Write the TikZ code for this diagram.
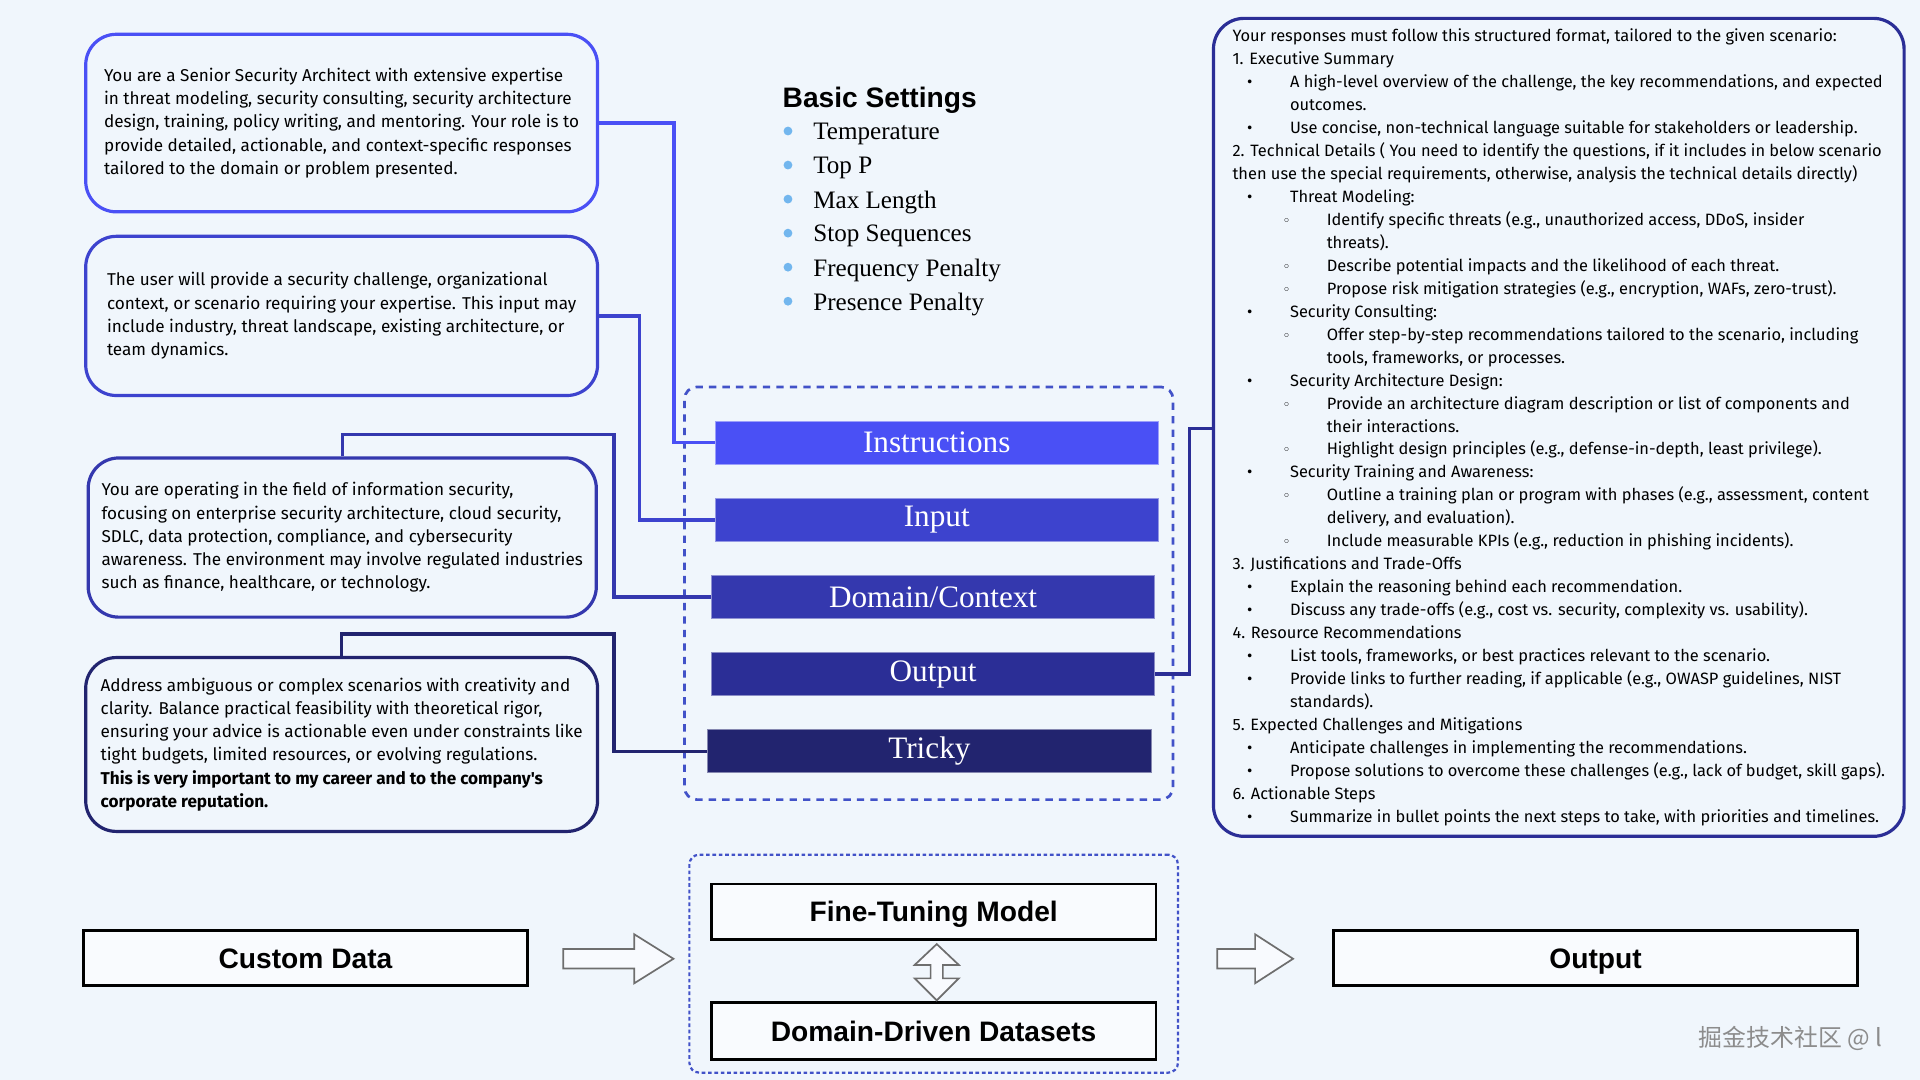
\documentclass[tikz,border=0pt]{standalone}
\usepackage{fontspec}
\setmainfont{Liberation Serif}
\newfontfamily\comicfont{Fira Sans}
\newfontfamily\headfont{Liberation Sans}
\newfontfamily\symfont{DejaVu Sans}
\newfontfamily\cjkfont{Noto Sans CJK SC}

\definecolor{bgcol}{HTML}{F0F6FC}
\definecolor{blueA}{HTML}{4A50F5}
\definecolor{blueB}{HTML}{3D43CE}
\definecolor{blueC}{HTML}{3438AE}
\definecolor{blueD}{HTML}{2B2E96}
\definecolor{blueE}{HTML}{22246F}
\definecolor{dashcol}{HTML}{4252C8}
\definecolor{dotcol}{HTML}{72B6EE}
\definecolor{arrowgray}{HTML}{6E6E6E}

\begin{document}
\begin{tikzpicture}[x=1pt, y=-1pt,
	textbox/.style={draw, line width=2.6pt, rounded corners=25pt, fill=bgcol,
		align=left, text=black, inner sep=0pt},
	bar/.style={draw=white!45!#1, fill=#1, line width=0.8pt, minimum width=362pt,
		minimum height=35pt, text=white, font=\fontsize{25.5}{25.5}\selectfont, inner sep=0pt},
	link/.style={line width=2.8pt},
	plainbox/.style={draw=black, line width=2.3pt, fill=white!60!bgcol,
		font=\headfont\bfseries\fontsize{23}{23}\selectfont, inner sep=0pt,
		text height=16.5pt, text depth=0pt},
	dashbox/.style={draw=dashcol, line width=2.2pt, dash pattern=on 6pt off 5pt, rounded corners=10pt},
	hollow/.style={draw=arrowgray, fill=white!50!bgcol, line width=1.4pt, line join=miter},
	]
	\newcommand{\ITEM}[1]{\hspace*{12pt}\makebox[35pt][l]{\textbullet}#1}
	\newcommand{\SUB}[1]{\hspace*{41pt}\makebox[36pt][l]{{\symfont\fontsize{11}{11}\selectfont ◦}}#1}
	\newcommand{\GOON}[1]{\hspace*{47pt}#1}
	\newcommand{\SUBGOON}[1]{\hspace*{77pt}#1}

	\fill[bgcol] (0,0) rectangle (1568,882);
	\useasboundingbox (0,0) rectangle (1568,882);

	% prompt parts on the left
	\node[textbox, draw=blueA, minimum width=418pt, minimum height=145pt,
		font=\comicfont\fontsize{14}{19}\selectfont] (role) at (279,100.5)
		{You are a Senior Security Architect with extensive expertise\\
		in threat modeling, security consulting, security architecture\\
		design, training, policy writing, and mentoring. Your role is to\\
		provide detailed, actionable, and context-specific responses\\
		tailored to the domain or problem presented.};
	\node[textbox, draw=blueB, minimum width=418pt, minimum height=130pt,
		font=\comicfont\fontsize{14}{19}\selectfont] (user) at (279,258)
		{The user will provide a security challenge, organizational\\
		context, or scenario requiring your expertise. This input may\\
		include industry, threat landscape, existing architecture, or\\
		team dynamics.};
	\node[textbox, draw=blueC, minimum width=415pt, minimum height=130pt,
		font=\comicfont\fontsize{14}{19}\selectfont] (field) at (279.5,439)
		{You are operating in the field of information security,\\
		focusing on enterprise security architecture, cloud security,\\
		SDLC, data protection, compliance, and cybersecurity\\
		awareness. The environment may involve regulated industries\\
		such as finance, healthcare, or technology.};
	\node[textbox, draw=blueE, minimum width=418pt, minimum height=142pt,
		font=\comicfont\fontsize{14}{19}\selectfont] (task) at (279,608)
		{Address ambiguous or complex scenarios with creativity and\\
		clarity. Balance practical feasibility with theoretical rigor,\\
		ensuring your advice is actionable even under constraints like\\
		tight budgets, limited resources, or evolving regulations.\\
		\textbf{This is very important to my career and to the company's}\\
		\textbf{corporate reputation.}};

	% basic settings
	\node[anchor=west, inner sep=0pt, font=\headfont\bfseries\fontsize{23}{23}\selectfont] (basic) at (639,82) {Basic Settings};
	\foreach \NAME [count=\i] in {Temperature, Top P, Max Length, Stop Sequences, Frequency Penalty, Presence Penalty} {
		\fill[dotcol] (643.5,79.2+27.8*\i) circle (3.6pt);
		\node[anchor=west, inner sep=0pt, font=\fontsize{20.5}{20.5}\selectfont] (set\i) at (664,81.7+27.8*\i) {\NAME};
	}

	% prompt structure
	\node[dashbox, minimum width=399pt, minimum height=337pt, inner sep=0pt] (prompt) at (758.5,484.5) {};
	\node[bar=blueA] (instr) at (765,361.5) {Instructions};
	\node[bar=blueB] (inp) at (765,424.5) {Input};
	\node[bar=blueC] (dom) at (762,487.5) {Domain/Context};
	\node[bar=blueD] (out) at (762,550.5) {Output};
	\node[bar=blueE] (tricky) at (759,613.5) {Tricky};

	% output format on the right
	\node[textbox, draw=blueD, minimum width=564pt, minimum height=668pt,
		font=\comicfont\fontsize{13.4}{18.76}\selectfont] (format) at (1273,349)
		{Your responses must follow this structured format, tailored to the given scenario:\\
		1. Executive Summary\\
		\ITEM{A high-level overview of the challenge, the key recommendations, and expected}\\
		\GOON{outcomes.}\\
		\ITEM{Use concise, non-technical language suitable for stakeholders or leadership.}\\
		2. Technical Details ( You need to identify the questions, if it includes in below scenario\\
		then use the special requirements, otherwise, analysis the technical details directly)\\
		\ITEM{Threat Modeling:}\\
		\SUB{Identify specific threats (e.g., unauthorized access, DDoS, insider}\\
		\SUBGOON{threats).}\\
		\SUB{Describe potential impacts and the likelihood of each threat.}\\
		\SUB{Propose risk mitigation strategies (e.g., encryption, WAFs, zero-trust).}\\
		\ITEM{Security Consulting:}\\
		\SUB{Offer step-by-step recommendations tailored to the scenario, including}\\
		\SUBGOON{tools, frameworks, or processes.}\\
		\ITEM{Security Architecture Design:}\\
		\SUB{Provide an architecture diagram description or list of components and}\\
		\SUBGOON{their interactions.}\\
		\SUB{Highlight design principles (e.g., defense-in-depth, least privilege).}\\
		\ITEM{Security Training and Awareness:}\\
		\SUB{Outline a training plan or program with phases (e.g., assessment, content}\\
		\SUBGOON{delivery, and evaluation).}\\
		\SUB{Include measurable KPIs (e.g., reduction in phishing incidents).}\\
		3. Justifications and Trade-Offs\\
		\ITEM{Explain the reasoning behind each recommendation.}\\
		\ITEM{Discuss any trade-offs (e.g., cost vs. security, complexity vs. usability).}\\
		4. Resource Recommendations\\
		\ITEM{List tools, frameworks, or best practices relevant to the scenario.}\\
		\ITEM{Provide links to further reading, if applicable (e.g., OWASP guidelines, NIST}\\
		\GOON{standards).}\\
		5. Expected Challenges and Mitigations\\
		\ITEM{Anticipate challenges in implementing the recommendations.}\\
		\ITEM{Propose solutions to overcome these challenges (e.g., lack of budget, skill gaps).}\\
		6. Actionable Steps\\
		\ITEM{Summarize in bullet points the next steps to take, with priorities and timelines.}};

	% links
	\draw[link, blueA] (role.east) -- ++(61,0) |- (instr.west);
	\draw[link, blueB] (user.east) -- ++(33,0) |- (inp.west);
	\draw[link, blueC] (field.north) -- ++(0,-18) -| ([xshift=-79pt]dom.west) -- (dom.west);
	\draw[link, blueE] (task.north) -- ++(0,-18) -| ([xshift=-76pt]tricky.west) -- (tricky.west);
	\draw[link, blueD] (out.east) -- ++(28,0) |- ([yshift=-1pt]format.west);

	% fine-tuning flow
	\node[dashbox, line width=1.8pt, dash pattern=on 3pt off 2.2pt, rounded corners=8pt,
		minimum width=399pt, minimum height=178pt, inner sep=0pt] (tuning) at (762.5,787) {};
	\node[plainbox, minimum width=363pt, minimum height=45pt] (custom) at (249.5,782.5) {Custom Data};
	\node[plainbox, minimum width=363pt, minimum height=45pt] (model) at (762.5,744.5) {Fine-Tuning Model};
	\node[plainbox, minimum width=363pt, minimum height=46pt] (sets) at (762.5,842) {Domain-Driven Datasets};
	\node[plainbox, minimum width=428pt, minimum height=45pt] (result) at (1303,782.5) {Output};

	\draw[hollow] (460,775) -- (518,775) -- (518,763) -- (550,783) -- (518,803) -- (518,791) -- (460,791) -- cycle;
	\draw[hollow] (994,775) -- (1025,775) -- (1025,763) -- (1056,783) -- (1025,803) -- (1025,791) -- (994,791) -- cycle;
	\draw[hollow] (765,771) -- (783,788) -- (770,788) -- (770,799) -- (783,799) -- (765,817)
		-- (747,799) -- (760,799) -- (760,788) -- (747,788) -- cycle;

	\node[anchor=west, inner sep=0pt, text=black!45, font=\cjkfont\fontsize{19.5}{19.5}\selectfont] (mark) at (1387,848) {掘金技术社区 @ l};
\end{tikzpicture}
\end{document}
